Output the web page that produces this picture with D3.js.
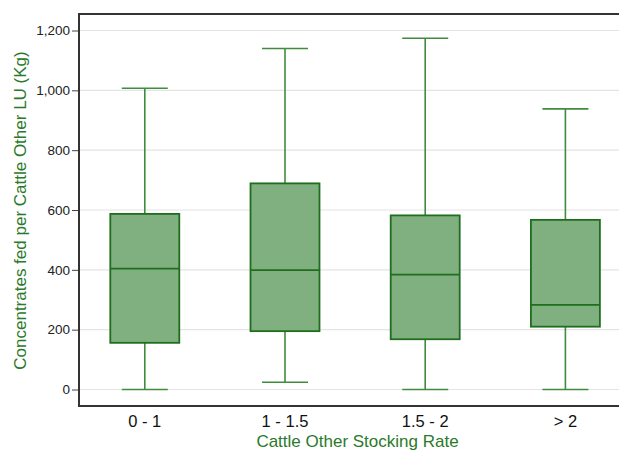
<!DOCTYPE html>
<html><head><meta charset="utf-8">
<script src="https://cdn.jsdelivr.net/npm/d3@7"></script>
<style>body{margin:0;background:#fff;overflow:hidden}svg{display:block;font-family:"Liberation Sans",Arial,sans-serif}</style>
</head><body><svg id="c" width="619" height="452"></svg>
<script>
const categories = ["0 - 1", "1 - 1.5", "1.5 - 2", "> 2"];
const whiskerLow = [0, 24, 0, 0];
const q1 = [156, 195, 168, 210];
const median = [404, 399, 384, 283];
const q3 = [587, 689, 582, 567];
const whiskerHigh = [1007, 1140, 1174, 938];
const yTicks = [0, 200, 400, 600, 800, 1000, 1200];

(function () {
const svg = d3.select("#c");
const pL = 79, pR = 631, pT = 14, pB = 406;
const y = d3.scaleLinear().domain([0, 1200]).range([389.5, 30.5]);
const x = d3.scaleBand().domain(categories).range([74.7, 635.5]).paddingInner(0.508).paddingOuter(0.254);

svg.append("g").selectAll("line").data(yTicks).join("line")
  .attr("x1", pL).attr("x2", pR)
  .attr("y1", d => y(d)).attr("y2", d => y(d))
  .attr("stroke", "#e4e4e4").attr("stroke-width", 1.2);

const yAxis = d3.axisLeft(y).tickValues(yTicks).tickSize(7).tickPadding(2).tickFormat(d3.format(","));
const gy = svg.append("g").attr("transform", `translate(${pL},0)`).call(yAxis);
gy.select(".domain").remove();
gy.selectAll(".tick line").attr("stroke", "#444");
gy.selectAll(".tick text").attr("font-size", 13.5).attr("fill", "#222").attr("font-family", "Liberation Sans, Arial, sans-serif");

const xAxis = d3.axisBottom(x).tickSize(0).tickPadding(9);
const gx = svg.append("g").attr("transform", `translate(0,${pB})`).call(xAxis);
gx.select(".domain").remove();
gx.selectAll(".tick text").attr("font-size", 16.5).attr("fill", "#111").attr("font-family", "Liberation Sans, Arial, sans-serif");

svg.append("rect").attr("x", pL).attr("y", pT).attr("width", pR - pL).attr("height", pB - pT)
  .attr("fill", "none").attr("stroke", "#333").attr("stroke-width", 2);

const data = categories.map((c, i) => ({c, lo: whiskerLow[i], q1: q1[i], med: median[i], q3: q3[i], hi: whiskerHigh[i]}));
const capW = 46;
const g = svg.append("g").selectAll("g").data(data).join("g");
const cx = d => x(d.c) + x.bandwidth() / 2;
const wc = "#3f8c3f";
g.append("line").attr("x1", cx).attr("x2", cx).attr("y1", d => y(d.hi)).attr("y2", d => y(d.q3)).attr("stroke", wc).attr("stroke-width", 1.6);
g.append("line").attr("x1", cx).attr("x2", cx).attr("y1", d => y(d.q1)).attr("y2", d => y(d.lo)).attr("stroke", wc).attr("stroke-width", 1.6);
g.append("line").attr("x1", d => cx(d) - capW / 2).attr("x2", d => cx(d) + capW / 2).attr("y1", d => y(d.hi)).attr("y2", d => y(d.hi)).attr("stroke", wc).attr("stroke-width", 1.6);
g.append("line").attr("x1", d => cx(d) - capW / 2).attr("x2", d => cx(d) + capW / 2).attr("y1", d => y(d.lo)).attr("y2", d => y(d.lo)).attr("stroke", wc).attr("stroke-width", 1.6);
g.append("rect").attr("x", d => x(d.c)).attr("width", x.bandwidth())
  .attr("y", d => y(d.q3)).attr("height", d => y(d.q1) - y(d.q3))
  .attr("fill", "#80b080").attr("stroke", "#1e6e1e").attr("stroke-width", 1.8);
g.append("line").attr("x1", d => x(d.c)).attr("x2", d => x(d.c) + x.bandwidth())
  .attr("y1", d => y(d.med)).attr("y2", d => y(d.med)).attr("stroke", "#1e6e1e").attr("stroke-width", 1.8);

svg.append("text").attr("x", 357.5).attr("y", 447).attr("text-anchor", "middle")
  .attr("font-size", 17).attr("fill", "#2a7a2a").text("Cattle Other Stocking Rate");
svg.append("text").attr("transform", `translate(25.5,210.5) rotate(-90)`).attr("text-anchor", "middle")
  .attr("font-size", 17).attr("fill", "#2a7a2a").text("Concentrates fed per Cattle Other LU (Kg)");
})();
</script></body></html>
